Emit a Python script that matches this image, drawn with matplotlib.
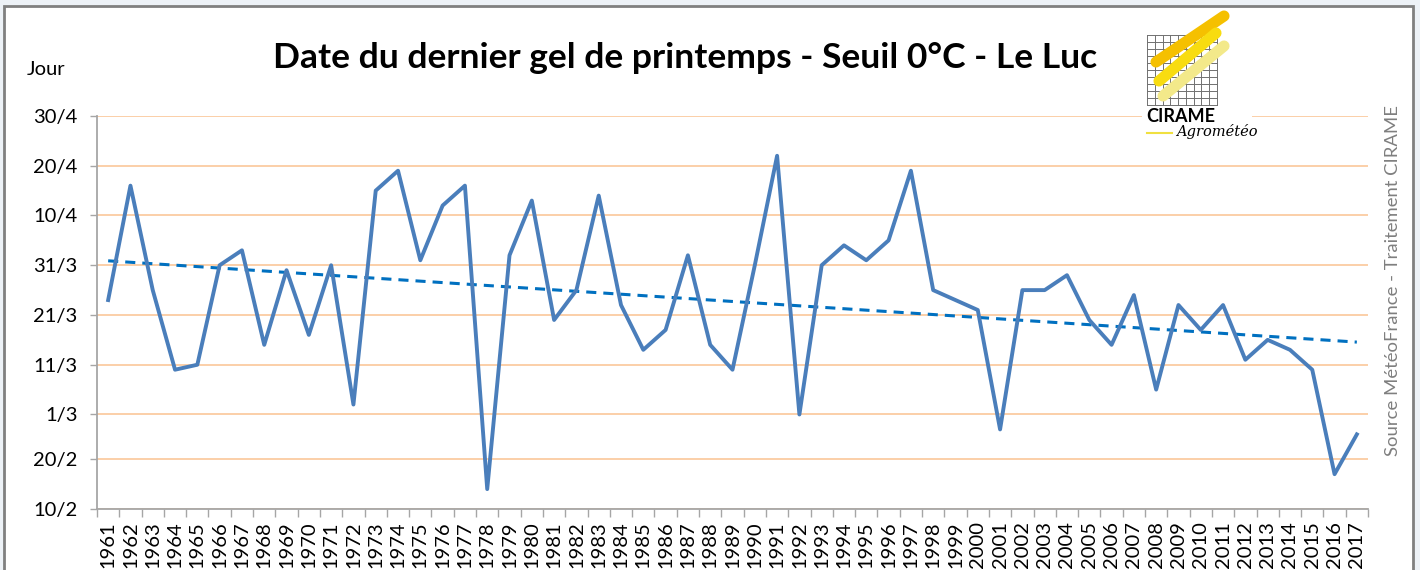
import numpy as np
import matplotlib
matplotlib.use("Agg")
import matplotlib.pyplot as plt
from matplotlib.patches import Rectangle

# dernier jour de gel (jour de l'annee, annee non bissextile)
years = list(range(1961, 2018))
last_frost = [83, 106, 85, 69, 70, 90, 93, 74, 89, 76,
              90, 62, 105, 109, 91, 102, 106, 45, 92, 103,
              79, 85, 104, 82, 73, 77, 92, 74, 69, 90,
              112, 60, 90, 94, 91, 95, 109, 85, 83, 81,
              57, 85, 85, 88, 79, 74, 84, 65, 82, 77,
              82, 71, 75, 73, 69, 48, 56]

ytick_days = [41, 51, 60, 70, 80, 90, 100, 110, 120]
ytick_labels = ['10/2', '20/2', '1/3', '11/3', '21/3', '31/3', '10/4', '20/4', '30/4']

W, H = 1420, 570
plt.rcParams['font.family'] = ['Lato', 'DejaVu Sans']

fig = plt.figure(figsize=(W / 100, H / 100), dpi=100)
fig.patch.set_facecolor('#edf2f7')

# cadre du graphique
frame = Rectangle((4 / W, -0.2), (1413 - 4) / W, 1.2 - 6 / H, transform=fig.transFigure,
                  facecolor='white', edgecolor='#808080', linewidth=2, zorder=-10)
fig.patches.append(frame)

ax = fig.add_axes([97 / W, (H - 509) / H, (1368 - 97) / W, (509 - 116) / H])
ax.set_facecolor('none')

x = np.array(years)
y = np.array(last_frost)
ax.plot(x, y, color='#4a7ebb', linewidth=2.8, zorder=3)

# tendance lineaire
coef = np.polyfit(x, y, 1)
ax.plot(x, np.polyval(coef, x), color='#0070c0', linewidth=2.2,
        linestyle=(0, (3.3, 2.3)), zorder=2)

ax.set_xlim(1960.5, 2017.5)
ax.set_ylim(41, 120)
ax.set_yticks(ytick_days)
ax.set_yticklabels(ytick_labels)
ax.set_xticks(x)
ax.set_xticklabels([str(v) for v in years], rotation=90, va='top')
ax.set_xticks(np.arange(1960.5, 2018, 1), minor=True)

ax.grid(axis='y', color='#fbcfa8', linewidth=1.4, zorder=1)
ax.set_axisbelow(True)

for s in ['top', 'right']:
    ax.spines[s].set_visible(False)
for s in ['left', 'bottom']:
    ax.spines[s].set_color('#a6a6a6')
    ax.spines[s].set_linewidth(1.3)

ax.tick_params(axis='y', length=5, width=1, color='#a6a6a6', pad=9, labelsize=14.5)
ax.tick_params(axis='x', which='major', length=0, pad=9, labelsize=14.5)
ax.tick_params(axis='x', which='minor', length=6, width=1, color='#a6a6a6')

fig.text(27 / W, 1 - 70 / H, 'Jour', fontsize=14.5, va='center', ha='left')
fig.text(685 / W, 1 - 58 / H, 'Date du dernier gel de printemps - Seuil 0°C - Le Luc',
         fontsize=25.5, fontweight='bold', ha='center', va='center')
fig.text(1393 / W, 1 - 281 / H, 'Source MétéoFrance - Traitement CIRAME',
         fontsize=13.3, color='#7f7f7f', rotation=90, ha='center', va='center')

# logo CIRAME (approximatif)
lg = fig.add_axes([1142 / W, 1 - 150 / H, (1252 - 1142) / W, (150 - 8) / H])
lg.set_xlim(1142, 1252)
lg.set_ylim(150, 8)
lg.axis('off')
lg.add_patch(Rectangle((1142, 8), 110, 142, facecolor='white', edgecolor='none'))
for gx in np.linspace(1147, 1217, 10):
    lg.plot([gx, gx], [35, 105], color='#707070', linewidth=0.7)
for gy in np.linspace(35, 105, 11):
    lg.plot([1147, 1217], [gy, gy], color='#707070', linewidth=0.7)
lg.plot([1156, 1224], [62, 16], color='#f5c000', linewidth=8, solid_capstyle='round')
lg.plot([1159, 1216], [81, 33], color='#f8dc10', linewidth=8, solid_capstyle='round')
lg.plot([1163, 1224], [96, 46], color='#f3e98a', linewidth=8, solid_capstyle='round')
lg.text(1146, 117, 'CIRAME', fontsize=13, fontweight='bold', ha='left', va='center')
lg.plot([1147, 1172], [133, 133], color='#f0e040', linewidth=1.5)
lg.text(1176, 132, 'Agrométéo', fontsize=10.5, fontstyle='italic', family='DejaVu Serif',
        ha='left', va='center')

fig.savefig('out.png', dpi=100)
